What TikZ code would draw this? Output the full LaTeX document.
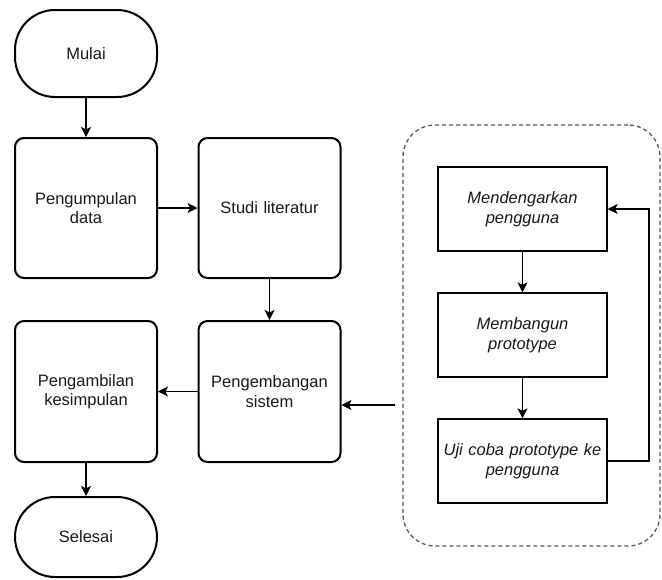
\documentclass[tikz,border=0pt]{standalone}
\usepackage{fontspec}
\setmainfont{Liberation Sans}
\usetikzlibrary{arrows.meta}
\tikzset{
  base/.style={draw=black, line width=2pt, align=center, text=black!90,
    font=\fontsize{16.5}{19.5}\selectfont, inner sep=2pt},
  mainbox/.style={base, rounded corners=9pt, minimum width=142pt, minimum height=140pt, text width=138pt},
  terminal/.style={base, rounded corners=40pt, minimum width=142pt},
  innerbox/.style={draw=black, line width=1.3pt, align=center, text=black!90,
    font=\fontsize{16.5}{19.5}\selectfont\itshape, minimum width=169pt, minimum height=84pt, text width=165pt, inner sep=2pt},
  group/.style={draw=black!65, line width=1.3pt, dash pattern=on 4pt off 3pt, rounded corners=32pt},
  arr/.style={draw=black, line width=1.3pt, -{Stealth[length=10pt,width=10pt,inset=2.5pt]}},
}
\begin{document}
\begin{tikzpicture}[x=1pt,y=-1pt]
\useasboundingbox (0,0) rectangle (662,579);
\node[terminal, minimum height=87pt] (mulai) at (86,53.5) {Mulai};
\node[mainbox] (kumpul) at (86,208) {Pengumpulan\\data};
\node[mainbox] (studi) at (269.5,208) {Studi literatur};
\node[mainbox, minimum height=141pt] (ambil) at (86,391.5) {Pengambilan\\kesimpulan};
\node[mainbox, minimum height=141pt] (kembang) at (269.5,391.5) {Pengembangan\\sistem};
\node[terminal, minimum height=80pt] (selesai) at (86,537) {Selesai};
\node[group, minimum width=257pt, minimum height=421pt] (grp) at (531.5,335.5) {};
\node[innerbox] (dengar) at (522.5,209) {Mendengarkan\\pengguna};
\node[innerbox] (bangun) at (522.5,335) {Membangun\\prototype};
\node[innerbox] (uji) at (522.5,461) {Uji coba prototype ke\\pengguna};
\coordinate (src) at (395,405);
\coordinate (fb1) at (649,461);
\coordinate (fb2) at (649,209);
\draw[arr] (mulai) -- (kumpul);
\draw[arr] (kumpul) -- (studi);
\draw[arr] (studi) -- (kembang);
\draw[arr] (kembang) -- (ambil);
\draw[arr] (ambil) -- (selesai);
\draw[arr] (src) -- (src -| kembang.east);
\draw[arr] (dengar) -- (bangun);
\draw[arr] (bangun) -- (uji);
\draw[arr] (uji.east) -- (fb1) -- (fb2) -- (dengar.east);
\end{tikzpicture}
\end{document}
